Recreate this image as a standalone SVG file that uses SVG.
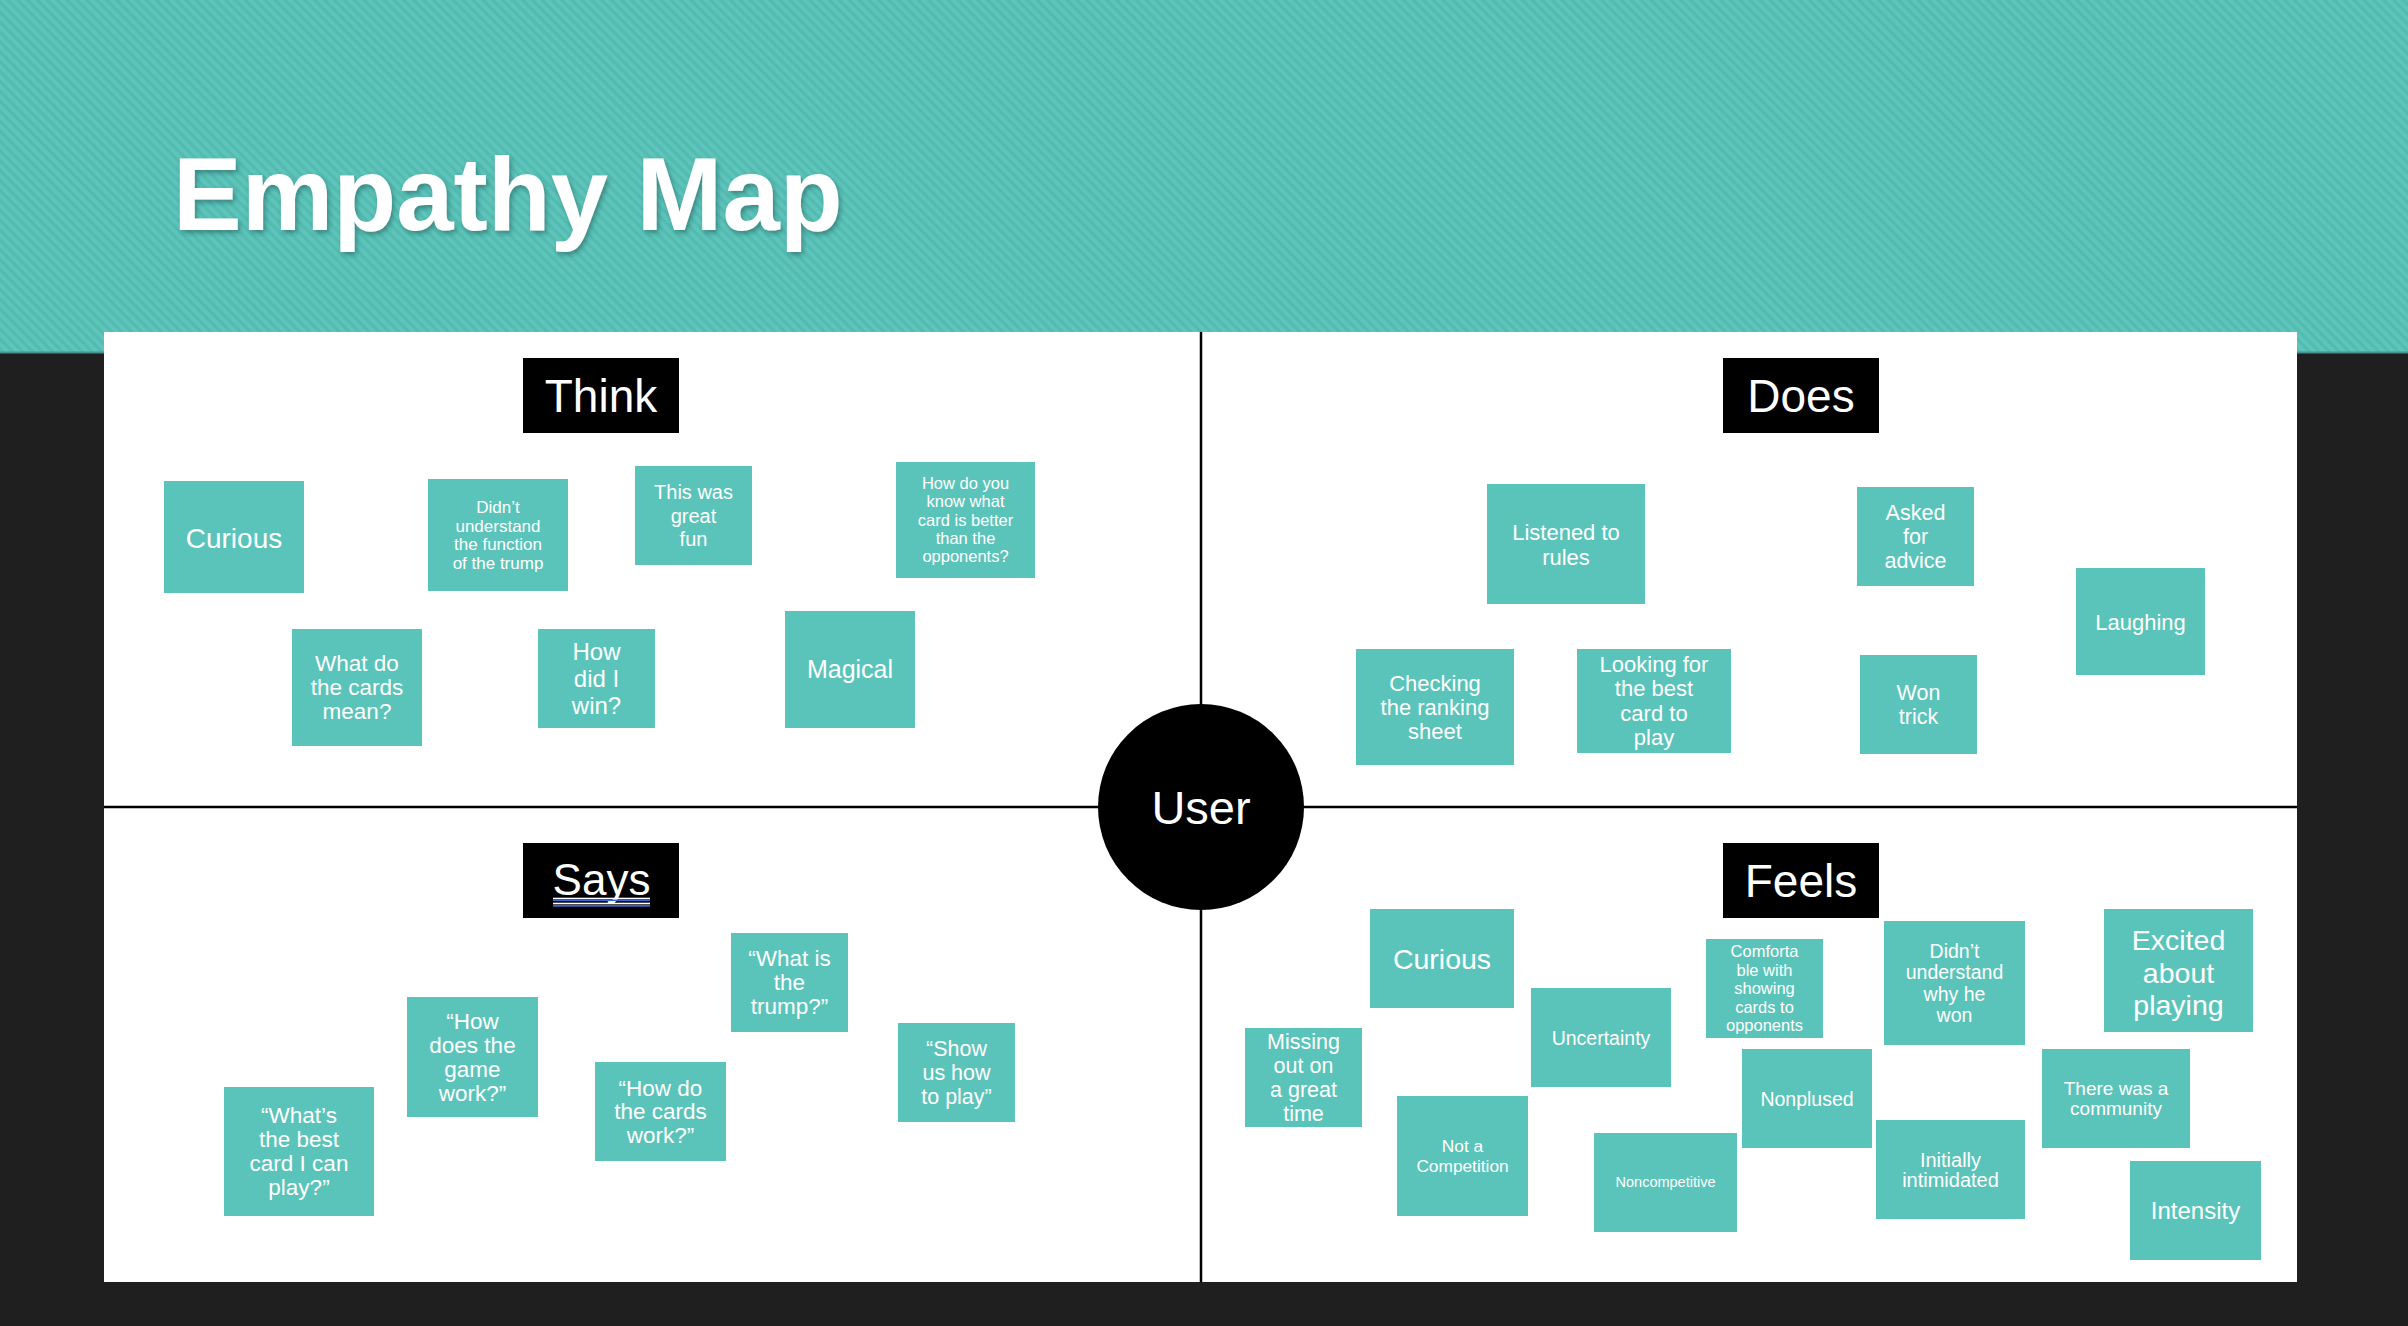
<svg xmlns="http://www.w3.org/2000/svg" width="2408" height="1326" viewBox="0 0 2408 1326">
<defs>
<pattern id="stripes" patternUnits="userSpaceOnUse" width="7" height="7" patternTransform="rotate(45)">
<rect width="7" height="7" fill="#5DC5BB"/>
<rect width="7" height="3.2" fill="#55BBB1"/>
</pattern>
<filter id="shadow" x="-10%" y="-20%" width="120%" height="150%">
<feDropShadow dx="2" dy="3" stdDeviation="2.5" flood-color="#1d5a55" flood-opacity="0.55"/>
</filter>
</defs>
<style>
.note{fill:#5BC4BA}
.nt{fill:#ffffff;font-family:"Liberation Sans",Arial,sans-serif;text-anchor:middle}
.hdr{fill:#000000}
.ht{fill:#ffffff;font-family:"Liberation Sans",Arial,sans-serif;text-anchor:middle;font-size:46px}
.axis{stroke:#000000;stroke-width:2.5;fill:none}
</style>
<rect x="0" y="0" width="2408" height="1326" fill="#1f1f1f"/>
<rect x="0" y="0" width="2408" height="353" fill="url(#stripes)"/>
<rect x="0" y="351.5" width="2408" height="2" fill="#3f958d"/>
<text x="173" y="230" font-family="'Liberation Sans',Arial,sans-serif" font-weight="bold" font-size="103" fill="#ffffff" filter="url(#shadow)">Empathy Map</text>
<rect x="104" y="332" width="2193" height="950" fill="#ffffff"/>

<g id="connectors">
<line class="axis" x1="1201" y1="332" x2="1201" y2="1282"/>
<line class="axis" x1="104" y1="807" x2="2297" y2="807"/>
</g>

<g id="user">
<circle cx="1201" cy="807" r="103" fill="#000000"/>
<text class="ht" x="1201" y="824" font-size="47" style="font-size:47px">User</text>
</g>

<g id="think-header"><rect class="hdr" x="523" y="358" width="156" height="75"/><text class="ht" x="601" y="412">Think</text></g>
<g id="does-header"><rect class="hdr" x="1723" y="358" width="156" height="75"/><text class="ht" x="1801" y="412">Does</text></g>
<g id="says-header"><rect class="hdr" x="523" y="843" width="156" height="75"/><text class="ht" x="601.5" y="895" style="font-size:44px">Says</text>
<rect x="553" y="897.7" width="97" height="1.6" fill="#ffffff"/><rect x="553" y="899.6" width="97" height="1.5" fill="#3a6ad6"/><rect x="553" y="902.7" width="97" height="1.6" fill="#ffffff"/><rect x="553" y="905" width="97" height="1.7" fill="#3a6ad6"/></g>
<g id="feels-header"><rect class="hdr" x="1723" y="843" width="156" height="75"/><text class="ht" x="1801" y="897">Feels</text></g>

<g id="think-curious"><rect class="note" x="164" y="481" width="140" height="112"/><text class="nt" x="234" y="548" font-size="28">Curious</text></g>
<g id="think-didnt-understand"><rect class="note" x="428" y="479" width="140" height="112"/><text class="nt" x="498" font-size="17"><tspan x="498" y="513">Didn’t</tspan><tspan x="498" y="531.5">understand</tspan><tspan x="498" y="550">the function</tspan><tspan x="498" y="568.5">of the trump</tspan></text></g>
<g id="think-great-fun"><rect class="note" x="635" y="466" width="117" height="99"/><text class="nt" x="693.5" font-size="20"><tspan x="693.5" y="499">This was</tspan><tspan x="693.5" y="522.5">great</tspan><tspan x="693.5" y="546">fun</tspan></text></g>
<g id="think-how-do-you-know"><rect class="note" x="896" y="462" width="139" height="116"/><text class="nt" x="965.5" font-size="16.5"><tspan x="965.5" y="489">How do you</tspan><tspan x="965.5" y="507.3">know what</tspan><tspan x="965.5" y="525.6">card is better</tspan><tspan x="965.5" y="543.9">than the</tspan><tspan x="965.5" y="562.2">opponents?</tspan></text></g>
<g id="think-what-do-cards-mean"><rect class="note" x="292" y="629" width="130" height="117"/><text class="nt" x="357" font-size="22.5"><tspan x="357" y="671">What do</tspan><tspan x="357" y="695">the cards</tspan><tspan x="357" y="719">mean?</tspan></text></g>
<g id="think-how-did-i-win"><rect class="note" x="538" y="629" width="117" height="99"/><text class="nt" x="596.5" font-size="24"><tspan x="596.5" y="660">How</tspan><tspan x="596.5" y="687">did I</tspan><tspan x="596.5" y="714">win?</tspan></text></g>
<g id="think-magical"><rect class="note" x="785" y="611" width="130" height="117"/><text class="nt" x="850" y="678" font-size="25">Magical</text></g>

<g id="does-listened"><rect class="note" x="1487" y="484" width="158" height="120"/><text class="nt" x="1566" font-size="22"><tspan x="1566" y="540">Listened to</tspan><tspan x="1566" y="564.5">rules</tspan></text></g>
<g id="does-asked-advice"><rect class="note" x="1857" y="487" width="117" height="99"/><text class="nt" x="1915.5" font-size="21.5"><tspan x="1915.5" y="520">Asked</tspan><tspan x="1915.5" y="544.2">for</tspan><tspan x="1915.5" y="568.4">advice</tspan></text></g>
<g id="does-laughing"><rect class="note" x="2076" y="568" width="129" height="107"/><text class="nt" x="2140.5" y="629.5" font-size="22">Laughing</text></g>
<g id="does-checking"><rect class="note" x="1356" y="649" width="158" height="116"/><text class="nt" x="1435" font-size="22"><tspan x="1435" y="690.5">Checking</tspan><tspan x="1435" y="714.7">the ranking</tspan><tspan x="1435" y="738.9">sheet</tspan></text></g>
<g id="does-looking"><rect class="note" x="1577" y="649" width="154" height="104"/><text class="nt" x="1654" font-size="22"><tspan x="1654" y="672">Looking for</tspan><tspan x="1654" y="696.4">the best</tspan><tspan x="1654" y="720.8">card to</tspan><tspan x="1654" y="745.2">play</tspan></text></g>
<g id="does-won-trick"><rect class="note" x="1860" y="655" width="117" height="99"/><text class="nt" x="1918.5" font-size="21.5"><tspan x="1918.5" y="700">Won</tspan><tspan x="1918.5" y="724">trick</tspan></text></g>

<g id="says-whats-best-card"><rect class="note" x="224" y="1087" width="150" height="129"/><text class="nt" x="299" font-size="22.5"><tspan x="299" y="1123">“What’s</tspan><tspan x="299" y="1147.1">the best</tspan><tspan x="299" y="1171.2">card I can</tspan><tspan x="299" y="1195.3">play?”</tspan></text></g>
<g id="says-how-does-game-work"><rect class="note" x="407" y="997" width="131" height="120"/><text class="nt" x="472.5" font-size="22.5"><tspan x="472.5" y="1029">“How</tspan><tspan x="472.5" y="1052.9">does the</tspan><tspan x="472.5" y="1076.8">game</tspan><tspan x="472.5" y="1100.7">work?”</tspan></text></g>
<g id="says-how-do-cards-work"><rect class="note" x="595" y="1062" width="131" height="99"/><text class="nt" x="660.5" font-size="22.5"><tspan x="660.5" y="1095.5">“How do</tspan><tspan x="660.5" y="1119.3">the cards</tspan><tspan x="660.5" y="1143.1">work?”</tspan></text></g>
<g id="says-what-is-trump"><rect class="note" x="731" y="933" width="117" height="99"/><text class="nt" x="789.5" font-size="22.5"><tspan x="789.5" y="966">“What is</tspan><tspan x="789.5" y="990.2">the</tspan><tspan x="789.5" y="1014.4">trump?”</tspan></text></g>
<g id="says-show-us"><rect class="note" x="898" y="1023" width="117" height="99"/><text class="nt" x="956.5" font-size="21.5"><tspan x="956.5" y="1056.4">“Show</tspan><tspan x="956.5" y="1080.1">us how</tspan><tspan x="956.5" y="1103.8">to play”</tspan></text></g>

<g id="feels-curious"><rect class="note" x="1370" y="909" width="144" height="99"/><text class="nt" x="1442" y="969" font-size="28.5">Curious</text></g>
<g id="feels-missing-out"><rect class="note" x="1245" y="1028" width="117" height="99"/><text class="nt" x="1303.5" font-size="21.5"><tspan x="1303.5" y="1049.3">Missing</tspan><tspan x="1303.5" y="1073.1">out on</tspan><tspan x="1303.5" y="1096.9">a great</tspan><tspan x="1303.5" y="1120.7">time</tspan></text></g>
<g id="feels-uncertainty"><rect class="note" x="1531" y="988" width="140" height="99"/><text class="nt" x="1601" y="1044.5" font-size="19.5">Uncertainty</text></g>
<g id="feels-comfortable"><rect class="note" x="1706" y="939" width="117" height="99"/><text class="nt" x="1764.5" font-size="16.5"><tspan x="1764.5" y="957.3">Comforta</tspan><tspan x="1764.5" y="975.8">ble with</tspan><tspan x="1764.5" y="994.3">showing</tspan><tspan x="1764.5" y="1012.8">cards to</tspan><tspan x="1764.5" y="1031.3">opponents</tspan></text></g>
<g id="feels-didnt-understand"><rect class="note" x="1884" y="921" width="141" height="124"/><text class="nt" x="1954.5" font-size="19.5"><tspan x="1954.5" y="957.6">Didn’t</tspan><tspan x="1954.5" y="979.1">understand</tspan><tspan x="1954.5" y="1000.6">why he</tspan><tspan x="1954.5" y="1022.1">won</tspan></text></g>
<g id="feels-excited"><rect class="note" x="2104" y="909" width="149" height="123"/><text class="nt" x="2178.5" font-size="28.5"><tspan x="2178.5" y="950">Excited</tspan><tspan x="2178.5" y="982.5">about</tspan><tspan x="2178.5" y="1015">playing</tspan></text></g>
<g id="feels-not-competition"><rect class="note" x="1397" y="1096" width="131" height="120"/><text class="nt" x="1462.5" font-size="17.3"><tspan x="1462.5" y="1152">Not a</tspan><tspan x="1462.5" y="1172">Competition</tspan></text></g>
<g id="feels-noncompetitive"><rect class="note" x="1594" y="1133" width="143" height="99"/><text class="nt" x="1665.5" y="1187" font-size="14.5">Noncompetitive</text></g>
<g id="feels-nonplused"><rect class="note" x="1742" y="1049" width="130" height="99"/><text class="nt" x="1807" y="1105.5" font-size="19.5">Nonplused</text></g>
<g id="feels-initially-intimidated"><rect class="note" x="1876" y="1120" width="149" height="99"/><text class="nt" x="1950.5" font-size="20"><tspan x="1950.5" y="1166.5">Initially</tspan><tspan x="1950.5" y="1186.5">intimidated</tspan></text></g>
<g id="feels-community"><rect class="note" x="2042" y="1049" width="148" height="99"/><text class="nt" x="2116" font-size="19"><tspan x="2116" y="1095">There was a</tspan><tspan x="2116" y="1115">community</tspan></text></g>
<g id="feels-intensity"><rect class="note" x="2130" y="1161" width="131" height="99"/><text class="nt" x="2195.5" y="1219" font-size="24">Intensity</text></g>
</svg>
